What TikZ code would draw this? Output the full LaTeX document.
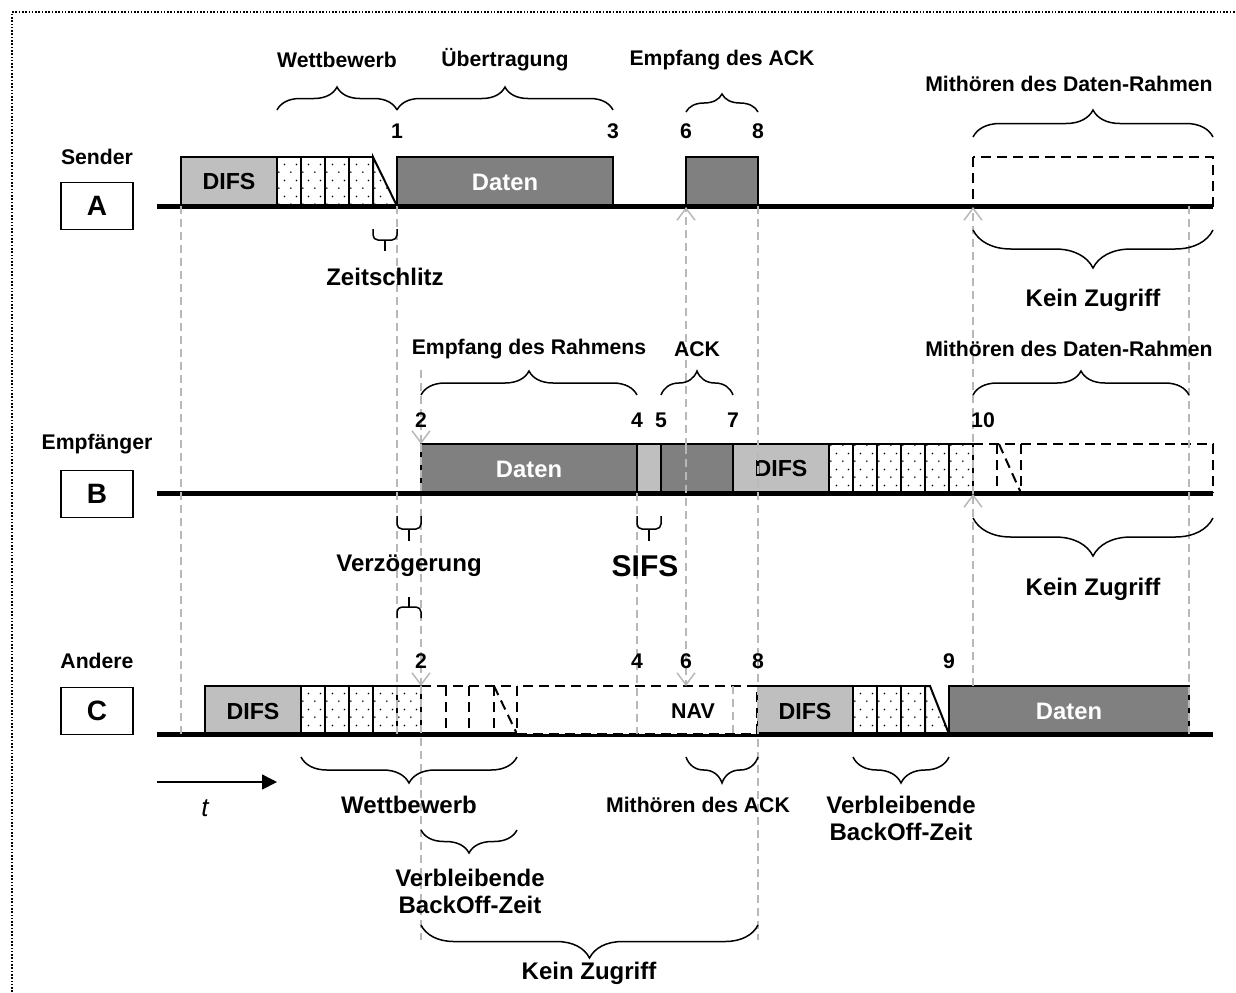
\documentclass[tikz,border=0pt]{standalone}
\usepackage{fontspec}
\setmainfont{Liberation Sans}
\usetikzlibrary{arrows.meta,decorations.pathreplacing,patterns.meta}
\definecolor{lightg}{gray}{0.75}
\definecolor{darkg}{gray}{0.5}
\definecolor{guidec}{gray}{0.72}
\tikzdeclarepattern{name=slotdots, type=uncolored,
  bounding box={(0pt,0pt) and (6pt,8pt)}, tile size={(6pt,8pt)},
  code={\fill (1.5pt,2pt) circle (0.45pt); \fill (4.5pt,6pt) circle (0.45pt);}}
\tikzset{
  base/.style={line width=2.5pt},
  boxline/.style={line width=1pt, draw=black},
  difsbox/.style={boxline, fill=lightg},
  databox/.style={boxline, fill=darkg},
  slotbox/.style={boxline, pattern={slotdots}},
  dashbox/.style={line width=1pt, dash pattern=on 5pt off 3pt},
  guide/.style={draw=guidec, line width=0.75pt, dash pattern=on 4pt off 2.5pt},
  guidearrow/.style={guide, -{Straight Barb[length=6pt,width=9pt]}},
  brc/.style={decorate, decoration={brace, amplitude=#1}, line width=0.75pt},
  sbrc/.style={line width=0.75pt, rounded corners=2.5pt},
  lbl/.style={font=\fontsize{10.6}{12}\selectfont\bfseries, inner sep=0pt},
  num/.style={font=\fontsize{10.6}{12}\selectfont\bfseries, inner sep=0pt},
  biglbl/.style={font=\fontsize{12}{13.5}\selectfont\bfseries, align=center, inner sep=0pt},
  sifslbl/.style={font=\fontsize{15}{17}\selectfont\bfseries, inner sep=0pt},
  boxtxt/.style={font=\fontsize{11.6}{13}\selectfont\bfseries, inner sep=0pt},
  datatxt/.style={font=\fontsize{11.9}{13}\selectfont\bfseries, text=white, inner sep=0pt},
  navtxt/.style={font=\fontsize{10.7}{12}\selectfont\bfseries, inner sep=0pt},
  namebox/.style={draw, line width=0.7pt, minimum width=36pt, minimum height=23.5pt,
    inner sep=0pt, font=\fontsize{14}{16}\selectfont\bfseries},
  tlbl/.style={font=\fontsize{13}{15}\selectfont\itshape, inner sep=0pt},
}
\begin{document}
\begin{tikzpicture}[x=0.5pt,y=-0.5pt]
\useasboundingbox (0,0) rectangle (1236,992);
% frame
\coordinate (fBL) at (12,992); \coordinate (fTL) at (12,12); \coordinate (fTR) at (1236,12);
\draw[line width=1pt, dash pattern=on 0.8pt off 0.85pt] (fBL) -- (fTL) -- (fTR);

% ===== row A =====
\draw[difsbox] (181,157) rectangle (277,206);
\node[boxtxt] (aDifs) at (229,182) {DIFS};
\foreach \x in {277,301,325,349} \draw[slotbox] (\x,157) rectangle ++(24,49);
\draw[slotbox] (373,157) -- (397,206) -- (373,206) -- cycle;
\draw[databox] (397,157) rectangle (613,206);
\node[datatxt] (aData) at (505,182) {Daten};
\draw[databox] (686,157) rectangle (758,206);
\draw[dashbox] (973,157) rectangle (1213,206);
\draw[base] (157,206) -- (1213,206);

% ===== row B =====
\draw[databox] (421,444) rectangle (637,493);
\node[datatxt] (bData) at (529,469) {Daten};
\draw[difsbox] (637,444) rectangle (661,493);
\draw[databox] (661,444) rectangle (733,493);
\draw[difsbox] (733,444) rectangle (829,493);
\node[boxtxt] (bDifs) at (781,469) {DIFS};
\foreach \x in {829,853,877,901,925,949} \draw[slotbox] (\x,444) rectangle ++(24,49);
\draw[dashbox] (973,444) -- (1213,444) -- (1213,493);
\draw[dashbox] (997,444) -- (997,493);
\draw[dashbox] (999,444) -- (1021,493);
\draw[dashbox] (1021,444) -- (1021,493);
\draw[base] (157,493) -- (1213,493);

% ===== row C =====
\draw[difsbox] (205,686) rectangle (301,734);
\node[boxtxt] (cDifs1) at (253,711) {DIFS};
\foreach \x in {301,325,349,373,397} \draw[slotbox] (\x,686) rectangle ++(24,48);
\draw[dashbox] (421,686) -- (517,686);
\foreach \x in {446,469,494} \draw[dashbox] (\x,686) -- (\x,734);
\draw[dashbox] (494,686) -- (517,734);
\draw[difsbox] (757,686) rectangle (853,734);
\node[boxtxt] (cDifs2) at (805,711) {DIFS};
\foreach \x in {853,877,901} \draw[slotbox] (\x,686) rectangle ++(24,48);
\draw[slotbox] (925,686) -- (930,686) -- (949,734) -- (925,734) -- cycle;
\draw[databox] (949,686) rectangle (1189,734);
\node[datatxt] (cData) at (1069,711) {Daten};
\draw[base] (157,734) -- (1213,734);
\draw[dashbox, fill=white] (517,686) rectangle (757,734);
\node[navtxt] (cNav) at (693,711) {NAV};

% station boxes and names
\node[lbl] (lSender) at (97,157) {Sender};
\node[namebox] (boxA) at (97,206) {A};
\node[lbl] (lEmpf) at (97,444) {Empfänger};
\node[namebox] (boxB) at (97,494) {B};
\node[lbl] (lAndere) at (97,661) {Andere};
\node[namebox] (boxC) at (97,711) {C};

% ===== guide lines =====
\draw[guide] (181,206) -- (181,734);
\draw[guide] (397,206) -- (397,734);
\draw[guidearrow] (421,370) -- (421,444);
\draw[guidearrow] (421,444) -- (421,686);
\draw[guide] (421,686) -- (421,940);
\draw[guide] (637,493) -- (637,734);
\coordinate (m686) at (686,446);
\draw[guidearrow] (m686) -- (686,207);
\draw[guidearrow] (m686) -- (686,686);
\draw[guide] (733,686) -- (733,734);
\draw[guide] (758,206) -- (758,940);
\draw[guidearrow] (973,686) -- (973,494);
\draw[guidearrow] (973,494) -- (973,207);
\draw[guide] (1189,206) -- (1189,734);

% time arrow
\draw[line width=0.8pt, -{Triangle[length=7.5pt,width=7.5pt]}] (157,782) -- (277,782);
\node[tlbl] (lt) at (205,808) {t};

% ===== braces =====
\draw[brc=11.5pt] (277,110) -- (397,110);
\draw[brc=11.5pt] (397,110) -- (613,110);
\draw[brc=9pt] (686,112) -- (758,112);
\draw[brc=13.5pt] (973,137) -- (1213,137);
% small square braces
\draw[sbrc] (373,229) -- (373,240) -- (397,240) -- (397,229);
\draw[line width=0.75pt] (385,240) -- (385,251);
\draw[sbrc] (397,516) -- (397,529) -- (421,529) -- (421,516);
\draw[line width=0.75pt] (409,529) -- (409,541);
\draw[sbrc] (637,516) -- (637,529) -- (661,529) -- (661,516);
\draw[line width=0.75pt] (649,529) -- (649,541);
\draw[sbrc] (397,618) -- (397,607) -- (421,607) -- (421,618);
\draw[line width=0.75pt] (409,607) -- (409,597);
\draw[brc=19pt] (1213,230) -- (973,230);
\draw[brc=12pt] (421,395) -- (637,395);
\draw[brc=12pt] (661,395) -- (733,395);
\draw[brc=12pt] (973,395) -- (1189,395);
\draw[brc=19pt] (1213,518) -- (973,518);
\draw[brc=13pt] (517,757) -- (301,757);
\draw[brc=13pt] (758,757) -- (686,757);
\draw[brc=13pt] (949,757) -- (853,757);
\draw[brc=11.5pt] (517,830) -- (421,830);
\draw[brc=16.5pt] (758,925) -- (421,925);

% ===== labels =====
\node[lbl] (lWettA) at (337,60) {Wettbewerb};
\node[lbl] (lUeb) at (505,60) {Übertragung};
\node[lbl] (lEmpAck) at (722,60) {Empfang des ACK};
\node[lbl] (lMitA) at (1069,84) {Mithören des Daten-Rahmen};
\node[num] (a1) at (397,131) {1};
\node[num] (a3) at (613,131) {3};
\node[num] (a6) at (686,131) {6};
\node[num] (a8) at (758,131) {8};
\node[biglbl] (lZeit) at (385,277) {Zeitschlitz};
\node[biglbl] (lKeinA) at (1093,300) {Kein Zugriff};
\node[lbl] (lEmpR) at (529,349) {Empfang des Rahmens};
\node[lbl] (lAckB) at (697,349) {ACK};
\node[lbl] (lMitB) at (1069,349) {Mithören des Daten-Rahmen};
\node[num] (b2) at (421,420) {2};
\node[num] (b4) at (637,420) {4};
\node[num] (b5) at (661,420) {5};
\node[num] (b7) at (733,420) {7};
\node[num] (b10) at (983,420) {10};
\node[biglbl] (lVerz) at (409,566) {Verzögerung};
\node[sifslbl] (lSifs) at (645,566) {SIFS};
\node[biglbl] (lKeinB) at (1093,589) {Kein Zugriff};
\node[num] (c2) at (421,661) {2};
\node[num] (c4) at (637,661) {4};
\node[num] (c6) at (686,661) {6};
\node[num] (c8) at (758,661) {8};
\node[num] (c9) at (949,661) {9};
\node[biglbl] (lWettC) at (409,805) {Wettbewerb};
\node[lbl] (lMitAck) at (698,805) {Mithören des ACK};
\node[biglbl] (lVerbR) at (901,818) {Verbleibende\\BackOff-Zeit};
\node[biglbl] (lVerbL) at (470,891) {Verbleibende\\BackOff-Zeit};
\node[biglbl] (lKeinC) at (589,973) {Kein Zugriff};
\end{tikzpicture}
\end{document}
